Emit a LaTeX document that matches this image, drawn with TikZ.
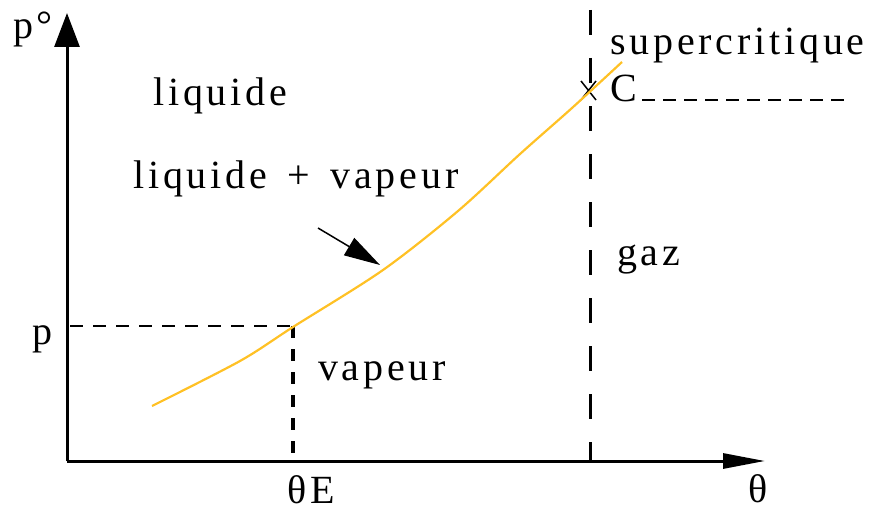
\documentclass[tikz,border=0pt]{standalone}
\usepackage{fontspec}
\setmainfont{Liberation Serif}[LetterSpace=9.5]
\usetikzlibrary{arrows.meta,positioning,calc}
\definecolor{curveyellow}{RGB}{255,193,37}

\begin{document}
\begin{tikzpicture}[x=1pt, y=-1pt, >=Triangle, font=\fontsize{40}{48}\selectfont]
    \tikzstyle{lbl} = [inner sep=0pt, anchor=base west]
    \tikzstyle{axis} = [line width=3pt]
    \tikzstyle{guide} = [line width=2pt, dash pattern=on 13pt off 10pt]
    \tikzstyle{crit} = [line width=3pt, dash pattern=on 25pt off 23pt]

    \useasboundingbox (0,0) rectangle (873,511);

    % axes
    \coordinate (O) at (67,461);
    \coordinate (ytip) at (67,13);
    \coordinate (xtip) at (765,461);
    \draw[axis, -{Triangle[length=34pt,width=25pt]}] (O) -- (ytip);
    \draw[axis, -{Triangle[length=42pt,width=15pt]}] (O) -- (xtip);

    % critical point and boundaries
    \coordinate (C) at (588,90);
    \coordinate (ctop) at (590,10);
    \coordinate (cbot) at (590,461);
    \coordinate (cleft) at (642,100);
    \coordinate (cright) at (848,100);
    \draw[crit] (ctop) -- (cbot);
    \draw[line width=2.5pt, dash pattern=on 13pt off 8pt] (cleft) -- (cright);
    \draw[line width=1.5pt] ($(C)+(-7,-9)$) -- ($(C)+(8,10)$)
                            ($(C)+(-7,10)$) -- ($(C)+(8,-9)$);

    % vaporisation point
    \coordinate (E) at (293,326);
    \coordinate (Ey) at (70,326);
    \coordinate (Ex) at (293,461);
    \draw[guide] (Ey) -- (E);
    \draw[line width=3.5pt, dash pattern=on 12pt off 11pt] (E) -- (Ex);

    % saturation curve
    \draw[curveyellow, line width=2.2pt] plot[smooth, tension=0.5] coordinates
        {(152,406) (240,361) (293,327) (383,270) (458,211) (520,154) (572,108) (622,62)};

    % pointer to the curve
    \coordinate (tail) at (318,228);
    \coordinate (head) at (380,265);
    \draw[line width=1.5pt, -{Triangle[length=36pt,width=20pt]}] (tail) -- (head);

    % labels
    \node[lbl] (pdeg) at (13,39) {p°};
    \node[lbl] (liq) at (153,105) {liquide};
    \node[lbl] (super) at (610,55) {supercritique};
    \node[lbl] (clbl) at (610,102) {C};
    \node[lbl] (liqvap) at (133,188) {liquide \,+\, vapeur};
    \node[lbl] (gaz) at (617,265) {gaz};
    \node[lbl] (vap) at (318,380) {vapeur};
    \node[lbl] (plbl) at (32,344) {p};
    \node[lbl] (thE) at (287,503) {θE};
    \node[lbl] (th) at (748,502) {θ};
  \end{tikzpicture}
\end{document}
